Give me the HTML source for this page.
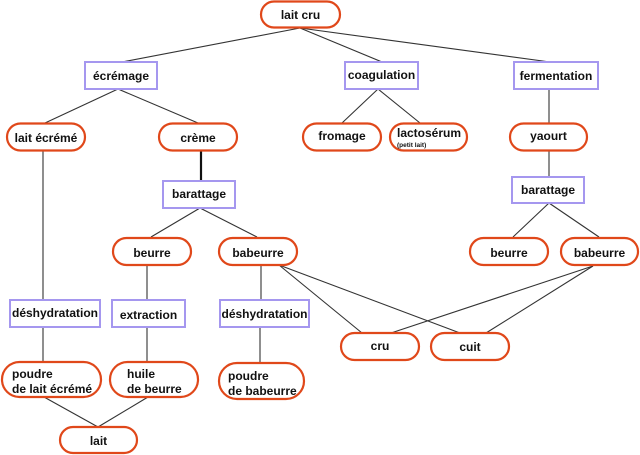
<!DOCTYPE html>
<html><head><meta charset="utf-8"><style>
html,body{margin:0;padding:0;background:#fff;width:640px;height:455px;overflow:hidden}
svg{display:block}
text{font-family:"Liberation Sans",sans-serif;font-weight:bold;font-size:12px;fill:#111}
.o{fill:#fff;stroke:#e0481a;stroke-width:2.2}
.b{fill:#fff;stroke:#a597ef;stroke-width:2}
line{stroke:#333;stroke-width:1.1}
</style></head><body>
<svg width="640" height="455" viewBox="0 0 640 455">
<g>
<line x1="300" y1="28" x2="122" y2="62"/>
<line x1="300" y1="28" x2="382" y2="62"/>
<line x1="300" y1="28" x2="550" y2="62"/>
<line x1="118" y1="89" x2="45" y2="123"/>
<line x1="118" y1="89" x2="198" y2="123"/>
<line x1="378" y1="89" x2="342" y2="123"/>
<line x1="378" y1="89" x2="420" y2="123"/>
<line x1="549" y1="89" x2="549" y2="123"/>
<line x1="201" y1="151" x2="201" y2="181" style="stroke-width:2.2;stroke:#111"/>
<line x1="200" y1="208" x2="151" y2="237"/>
<line x1="200" y1="208" x2="257" y2="237"/>
<line x1="549" y1="151" x2="549" y2="176"/>
<line x1="549" y1="203" x2="513" y2="237"/>
<line x1="549" y1="203" x2="599" y2="237"/>
<line x1="43" y1="151" x2="43" y2="300"/>
<line x1="147" y1="265" x2="147" y2="300"/>
<line x1="261" y1="265" x2="261" y2="300"/>
<line x1="279" y1="265" x2="362" y2="333"/>
<line x1="279" y1="265" x2="460" y2="333"/>
<line x1="593" y1="266" x2="391" y2="333"/>
<line x1="593" y1="266" x2="486" y2="333"/>
<line x1="43" y1="327" x2="43" y2="362"/>
<line x1="147" y1="327" x2="147" y2="362"/>
<line x1="260" y1="327" x2="260" y2="362"/>
<line x1="44" y1="397" x2="98" y2="427"/>
<line x1="148" y1="397" x2="98" y2="427"/>
</g>
<rect class="o" x="261" y="1.5" width="79" height="26" rx="13"/><text x="300.5" y="19" text-anchor="middle">lait cru</text>
<rect class="o" x="7" y="123.5" width="78" height="27" rx="13.5"/><text x="46" y="142" text-anchor="middle">lait écrémé</text>
<rect class="o" x="159" y="123.5" width="78" height="27" rx="13.5"/><text x="198" y="142" text-anchor="middle">crème</text>
<rect class="o" x="303" y="123.5" width="78" height="27" rx="13.5"/><text x="342" y="140" text-anchor="middle">fromage</text>
<rect class="o" x="390" y="123.5" width="77" height="27" rx="13.5"/><text x="397" y="137">lactosérum</text><text x="397" y="147" style="font-size:6.5px">(petit lait)</text>
<rect class="o" x="510" y="123.5" width="77" height="27" rx="13.5"/><text x="548.5" y="140" text-anchor="middle">yaourt</text>
<rect class="o" x="113" y="238" width="78" height="27" rx="13.5"/><text x="152" y="257" text-anchor="middle">beurre</text>
<rect class="o" x="219" y="238" width="78" height="27" rx="13.5"/><text x="258" y="257" text-anchor="middle">babeurre</text>
<rect class="o" x="470" y="238" width="78" height="27" rx="13.5"/><text x="509" y="257" text-anchor="middle">beurre</text>
<rect class="o" x="561" y="238" width="77" height="27" rx="13.5"/><text x="599.5" y="257" text-anchor="middle">babeurre</text>
<rect class="o" x="341" y="333" width="78" height="27" rx="13.5"/><text x="380" y="350" text-anchor="middle">cru</text>
<rect class="o" x="431" y="333" width="78" height="27" rx="13.5"/><text x="470" y="351" text-anchor="middle">cuit</text>
<rect class="o" x="2" y="362" width="99" height="35" rx="17.5"/><text x="12" y="378">poudre</text><text x="12" y="393">de lait écrémé</text>
<rect class="o" x="110" y="362" width="88" height="35" rx="17.5"/><text x="127" y="378">huile</text><text x="127" y="393">de beurre</text>
<rect class="o" x="219" y="363" width="85" height="36" rx="18"/><text x="228" y="380">poudre</text><text x="228" y="395">de babeurre</text>
<rect class="o" x="60" y="427" width="77" height="26" rx="13"/><text x="98.5" y="445" text-anchor="middle">lait</text>
<rect class="b" x="85" y="62" width="72" height="27"/><text x="121" y="80" text-anchor="middle">écrémage</text>
<rect class="b" x="345" y="62" width="73" height="27"/><text x="381.5" y="79" text-anchor="middle">coagulation</text>
<rect class="b" x="514" y="62" width="84" height="27"/><text x="556" y="80" text-anchor="middle">fermentation</text>
<rect class="b" x="163" y="181" width="72" height="27"/><text x="199" y="198" text-anchor="middle">barattage</text>
<rect class="b" x="512" y="177" width="72" height="26" /><text x="548" y="194" text-anchor="middle">barattage</text>
<rect class="b" x="10" y="300" width="90" height="27"/><text x="55" y="317" text-anchor="middle">déshydratation</text>
<rect class="b" x="112" y="300" width="73" height="27"/><text x="148.5" y="319" text-anchor="middle">extraction</text>
<rect class="b" x="220" y="300" width="89" height="27"/><text x="264.5" y="318" text-anchor="middle">déshydratation</text>
</svg>
</body></html>
